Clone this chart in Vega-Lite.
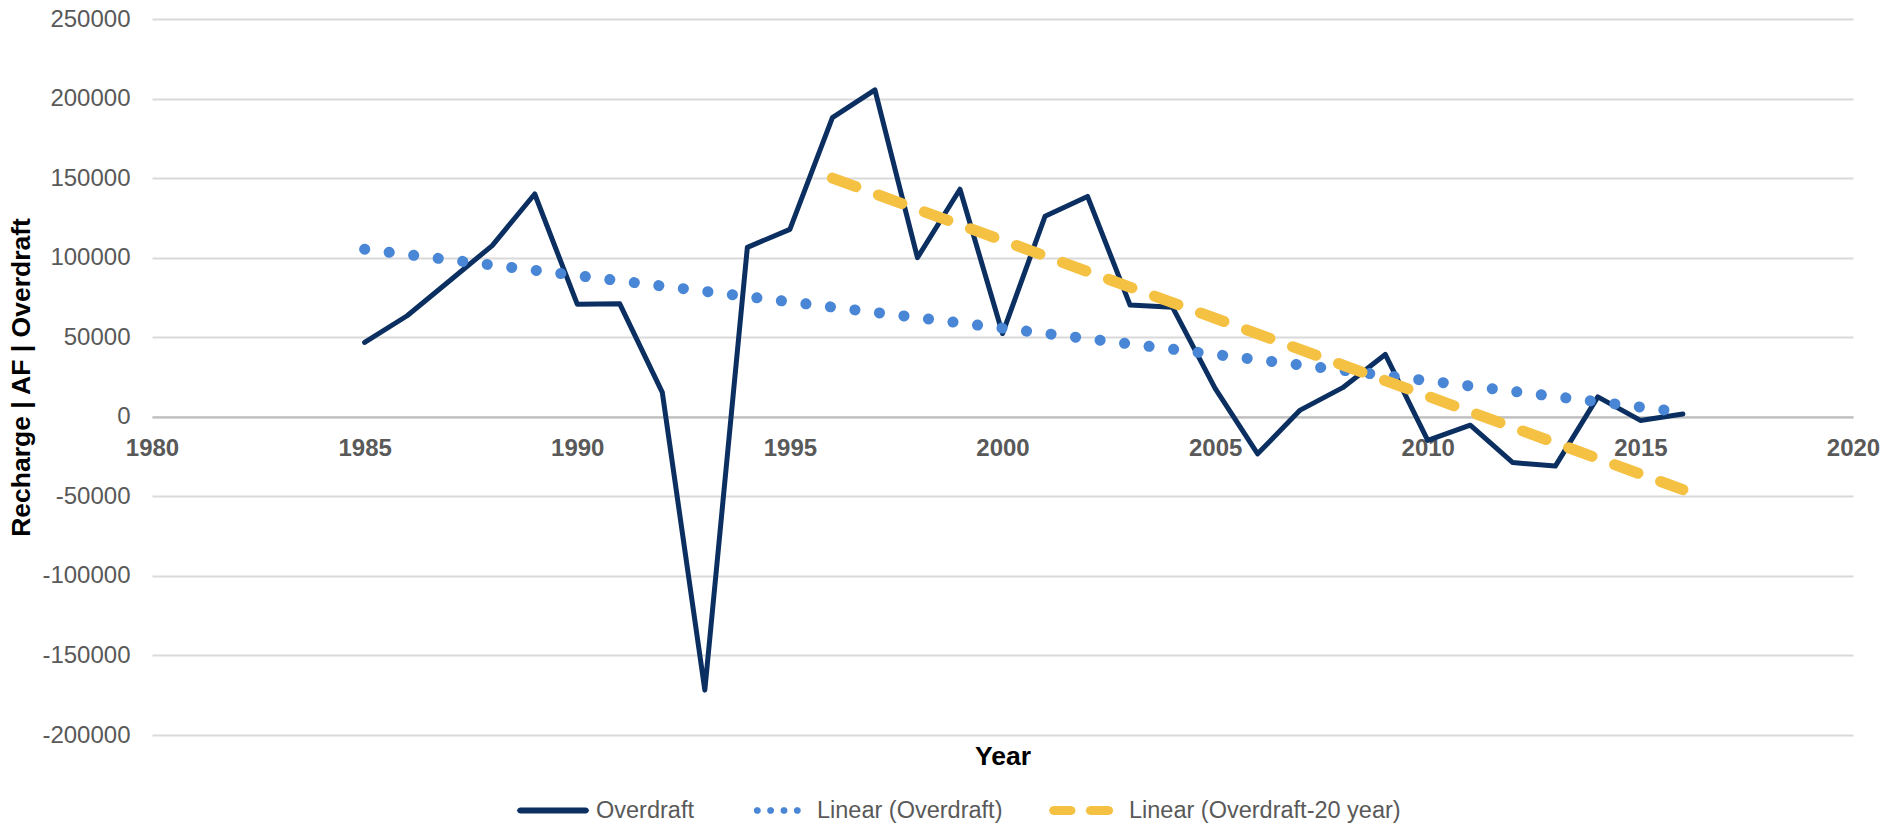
{
  "$schema": "https://vega.github.io/schema/vega-lite/v6.json",
  "width": 1701,
  "height": 716,
  "autosize": {"type": "none"},
  "padding": {"left": 152, "top": 19, "right": 42, "bottom": 89},
  "background": "white",
  "config": {
    "font": "Liberation Sans",
    "view": {"stroke": null}
  },
  "datasets": {
    "overdraft": [
      {"year": 1985, "value": 46700, "series": "Overdraft"},
      {"year": 1986, "value": 63500, "series": "Overdraft"},
      {"year": 1987, "value": 85500, "series": "Overdraft"},
      {"year": 1988, "value": 107600, "series": "Overdraft"},
      {"year": 1989, "value": 140000, "series": "Overdraft"},
      {"year": 1990, "value": 70800, "series": "Overdraft"},
      {"year": 1991, "value": 71000, "series": "Overdraft"},
      {"year": 1992, "value": 15300, "series": "Overdraft"},
      {"year": 1993, "value": -171800, "series": "Overdraft"},
      {"year": 1994, "value": 106500, "series": "Overdraft"},
      {"year": 1995, "value": 117800, "series": "Overdraft"},
      {"year": 1996, "value": 188000, "series": "Overdraft"},
      {"year": 1997, "value": 205500, "series": "Overdraft"},
      {"year": 1998, "value": 100000, "series": "Overdraft"},
      {"year": 1999, "value": 143000, "series": "Overdraft"},
      {"year": 2000, "value": 52300, "series": "Overdraft"},
      {"year": 2001, "value": 126000, "series": "Overdraft"},
      {"year": 2002, "value": 138500, "series": "Overdraft"},
      {"year": 2003, "value": 70200, "series": "Overdraft"},
      {"year": 2004, "value": 68800, "series": "Overdraft"},
      {"year": 2005, "value": 17900, "series": "Overdraft"},
      {"year": 2006, "value": -23300, "series": "Overdraft"},
      {"year": 2007, "value": 4200, "series": "Overdraft"},
      {"year": 2008, "value": 18300, "series": "Overdraft"},
      {"year": 2009, "value": 39200, "series": "Overdraft"},
      {"year": 2010, "value": -14800, "series": "Overdraft"},
      {"year": 2011, "value": -5300, "series": "Overdraft"},
      {"year": 2012, "value": -28800, "series": "Overdraft"},
      {"year": 2013, "value": -31000, "series": "Overdraft"},
      {"year": 2014, "value": 12500, "series": "Overdraft"},
      {"year": 2015, "value": -2300, "series": "Overdraft"},
      {"year": 2016, "value": 1700, "series": "Overdraft"}
    ],
    "trend": [
      {"year": 1985, "value": 105300, "series": "Linear (Overdraft)"},
      {"year": 2016, "value": 2800, "series": "Linear (Overdraft)"}
    ],
    "trend20": [
      {"year": 1996, "value": 150000, "series": "Linear (Overdraft-20 year)"},
      {"year": 2016, "value": -45800, "series": "Linear (Overdraft-20 year)"}
    ],
    "legendonly": []
  },
  "encoding": {
    "x": {
      "field": "year",
      "type": "quantitative",
      "scale": {"domain": [1980, 2020], "nice": false, "zero": false},
      "axis": {
        "title": "Year",
        "titleFont": "Liberation Sans",
        "titleFontSize": 26.5,
        "titleFontWeight": "bold",
        "titleColor": "#000000",
        "titleBaseline": "middle",
        "titleY": 339.5,
        "values": [1980, 1985, 1990, 1995, 2000, 2005, 2010, 2015, 2020],
        "format": "d",
        "labelFontSize": 24,
        "labelFontWeight": "bold",
        "labelColor": "#595959",
        "labelPadding": 20,
        "labelFlush": false,
        "labelOverlap": false,
        "ticks": false,
        "tickSize": 0,
        "grid": false,
        "domain": true,
        "domainColor": "#bfbfbf",
        "domainWidth": 2.2,
        "offset": -318.22
      }
    },
    "y": {
      "field": "value",
      "type": "quantitative",
      "scale": {"domain": [-200000, 250000], "nice": false, "zero": false},
      "axis": {
        "title": "Recharge | AF | Overdraft",
        "titleFont": "Liberation Sans",
        "titleFontSize": 26.5,
        "titleFontWeight": "bold",
        "titleColor": "#000000",
        "titleBaseline": "middle",
        "titleX": -130.5,
        "values": [-200000, -150000, -100000, -50000, 0, 50000, 100000, 150000, 200000, 250000],
        "labelExpr": "'' + datum.value",
        "labelFontSize": 24,
        "labelColor": "#595959",
        "labelPadding": 22,
        "labelOverlap": false,
        "ticks": false,
        "tickSize": 0,
        "domain": false,
        "grid": true,
        "gridColor": "#d9d9d9",
        "gridWidth": 2
      }
    }
  },
  "layer": [
    {
      "data": {"name": "overdraft"},
      "mark": {"type": "line", "color": "#0b2f60", "strokeWidth": 5, "strokeJoin": "round", "strokeCap": "round"}
    },
    {
      "data": {"name": "trend"},
      "mark": {"type": "line", "color": "#4a86d6", "strokeWidth": 11, "strokeCap": "round", "strokeDash": [0.1, 24.6]}
    },
    {
      "data": {"name": "trend20"},
      "mark": {"type": "line", "color": "#f5c143", "strokeWidth": 11, "strokeCap": "round", "strokeDash": [25, 24]}
    },
    {
      "data": {"name": "legendonly"},
      "mark": {"type": "point", "filled": true, "opacity": 1, "strokeWidth": 0},
      "encoding": {
        "color": {
          "field": "series",
          "type": "nominal",
          "scale": {
            "domain": ["Overdraft", "Linear (Overdraft)", "Linear (Overdraft-20 year)"],
            "range": ["#0b2f60", "#4a86d6", "#f5c143"]
          },
          "legend": {
            "title": null,
            "orient": "none",
            "direction": "horizontal",
            "legendX": 366,
            "legendY": 755,
            "padding": 0,
            "symbolSize": 5329,
            "symbolStrokeWidth": 0,
            "symbolOpacity": 1,
            "labelFontSize": 23.5,
            "labelColor": "#595959",
            "labelOffset": 5,
            "columnPadding": 45,
            "labelLimit": 400
          }
        },
        "shape": {
          "field": "series",
          "type": "nominal",
          "scale": {
            "domain": ["Overdraft", "Linear (Overdraft)", "Linear (Overdraft-20 year)"],
            "range": [
              "M -0.945 -0.0822 L 0.863 -0.0822 L 0.921 -0.0575 L 0.945 0 L 0.921 0.0575 L 0.863 0.0822 L -0.945 0.0822 L -1.003 0.0575 L -1.027 0 L -1.003 -0.0575 Z",
              "M -0.408 -0.0378 L -0.408 0.0378 L -0.461 0.0911 L -0.537 0.0911 L -0.590 0.0378 L -0.590 -0.0378 L -0.537 -0.0911 L -0.461 -0.0911 Z M -0.043 -0.0378 L -0.043 0.0378 L -0.096 0.0911 L -0.172 0.0911 L -0.225 0.0378 L -0.225 -0.0378 L -0.172 -0.0911 L -0.096 -0.0911 Z M 0.324 -0.0378 L 0.324 0.0378 L 0.271 0.0911 L 0.195 0.0911 L 0.142 0.0378 L 0.142 -0.0378 L 0.195 -0.0911 L 0.271 -0.0911 Z M 0.688 -0.0378 L 0.688 0.0378 L 0.635 0.0911 L 0.559 0.0911 L 0.506 0.0378 L 0.506 -0.0378 L 0.559 -0.0911 L 0.635 -0.0911 Z",
              "M -0.932 -0.1233 L -0.447 -0.1233 L -0.361 -0.0863 L -0.324 0 L -0.361 0.0863 L -0.447 0.1233 L -0.932 0.1233 L -1.018 0.0863 L -1.055 0 L -1.018 -0.0863 Z M 0.074 -0.1233 L 0.584 -0.1233 L 0.670 -0.0863 L 0.707 0 L 0.670 0.0863 L 0.584 0.1233 L 0.074 0.1233 L -0.012 0.0863 L -0.049 0 L -0.012 -0.0863 Z"
            ]
          },
          "legend": {
            "title": null,
            "orient": "none",
            "direction": "horizontal",
            "legendX": 366,
            "legendY": 755,
            "padding": 0,
            "symbolSize": 5329,
            "symbolStrokeWidth": 0,
            "symbolOpacity": 1,
            "labelFontSize": 23.5,
            "labelColor": "#595959",
            "labelOffset": 5,
            "columnPadding": 45,
            "labelLimit": 400
          }
        }
      }
    }
  ]
}
